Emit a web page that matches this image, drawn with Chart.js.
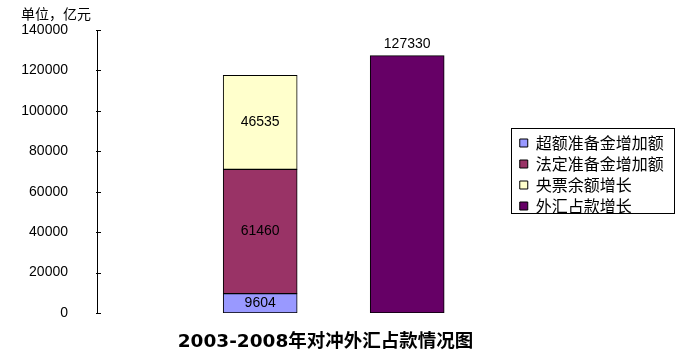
<!DOCTYPE html>
<html><head><meta charset="utf-8">
<script src="https://cdn.jsdelivr.net/npm/chart.js@4.4.1/dist/chart.umd.min.js"></script>
<style>html,body{margin:0;padding:0;background:#fff;} #wrap{position:relative;width:679px;height:357px;}</style>
</head><body><div id="wrap"><canvas id="c"></canvas></div>
<script>
// ---- data ----
const positions = [1, 2];            // category slots of the two bars
const seriesNames = ['超额准备金增加额', '法定准备金增加额', '央票余额增长', '外汇占款增长'];
const excessReserve   = [9604, null];
const requiredReserve = [61460, null];
const billBalance     = [46535, null];
const fxIncrease      = [null, 127330];
const yMin = 0, yMax = 140000, yStep = 20000;
const unitLabel = '单位，亿元';
const chartTitle = '2003-2008年对冲外汇占款情况图';

const seriesValues = [excessReserve, requiredReserve, billBalance, fxIncrease];
const colors = ['#9999FF', '#993366', '#FFFFCC', '#660066'];
const labelOutside = [false, false, false, true];

const toPoints = vals => positions.map((p, i) => ({x: p, y: vals[i]})).filter(d => d.y !== null);

Chart.defaults.font.family = '"Liberation Sans", Arial, sans-serif';
Chart.defaults.color = '#000';

const legendPlace = {
  id: 'legendPlace',
  afterLayout(chart) {
    const lg = chart.legend;
    const dx = chart.width - 12 - lg.right;
    lg.left += dx; lg.right += dx;
    lg.top += 3; lg.bottom += 3;
  }
};

const legendBorder = {
  id: 'legendBorder',
  afterDraw(chart) {
    const hb = chart.legend.legendHitBoxes;
    if (!hb || !hb.length) return;
    let l = Infinity, t = Infinity, r = -Infinity, b = -Infinity;
    hb.forEach(h => { l = Math.min(l, h.left); t = Math.min(t, h.top); r = Math.max(r, h.left + h.width); b = Math.max(b, h.top + h.height); });
    const ctx = chart.ctx;
    ctx.save();
    ctx.strokeStyle = '#000'; ctx.lineWidth = 1;
    ctx.strokeRect(Math.round(l - 9) + 0.5, Math.round(t - 7) + 0.5, Math.round(r - l + 19), Math.round(b - t + 6));
    ctx.restore();
  }
};

const inwardTicks = {
  id: 'inwardTicks',
  afterDraw(chart) {
    const s = chart.scales.y, ctx = chart.ctx;
    const x = Math.round(s.right);
    ctx.save();
    ctx.strokeStyle = '#000'; ctx.lineWidth = 1;
    s.ticks.forEach((tk, i) => {
      const y = Math.round(s.getPixelForTick(i)) + 0.5;
      ctx.beginPath(); ctx.moveTo(x - 1, y); ctx.lineTo(x + 4, y); ctx.stroke();
    });
    ctx.restore();
  }
};

const valueLabels = {
  id: 'valueLabels',
  afterDatasetsDraw(chart) {
    const ctx = chart.ctx;
    ctx.save();
    ctx.font = '14px "Liberation Sans", Arial, sans-serif';
    ctx.fillStyle = '#000';
    ctx.textAlign = 'center';
    ctx.textBaseline = 'middle';
    chart.data.datasets.forEach((ds, di) => {
      const meta = chart.getDatasetMeta(di);
      meta.data.forEach((el, i) => {
        const v = ds.data[i].y;
        if (v === null || v === undefined) return;
        const p = el.getProps(['x', 'y', 'base'], true);
        const y = labelOutside[di] ? p.y - 11 : (p.y + p.base) / 2;
        ctx.fillText(String(v), p.x, y);
      });
    });
    ctx.restore();
  }
};

new Chart(document.getElementById('c'), {
  type: 'bar',
  data: {
    datasets: seriesNames.map((name, i) => ({
      label: name,
      data: toPoints(seriesValues[i]),
      backgroundColor: colors[i],
      borderColor: '#000',
      borderWidth: 1,
      borderSkipped: false,
      barThickness: 74
    }))
  },
  options: {
    responsive: true,
    maintainAspectRatio: false,
    animation: false,
    devicePixelRatio: 1,
    layout: {padding: {left: 21, right: 49, top: 0, bottom: 0}},
    scales: {
      x: {type: 'linear', display: false, stacked: true, offset: false, min: -0.11, max: 2.48},
      y: {
        stacked: true, min: yMin, max: yMax,
        ticks: {stepSize: yStep, padding: 3, font: {size: 14}, color: '#000', callback: v => String(v)},
        grid: {display: false, drawTicks: true, tickLength: 26},
        border: {display: true, color: '#000', width: 1},
        afterFit(s) { s.width = 76; }
      }
    },
    plugins: {
      legend: {
        position: 'right', fullSize: false,
        labels: {boxWidth: 8, boxHeight: 8, padding: 5, color: '#000',
          font: {family: '"Noto Sans CJK SC", sans-serif', size: 16, lineHeight: 1}}
      },
      subtitle: {
        display: true, text: unitLabel, position: 'top', align: 'start', color: '#000',
        font: {family: '"Noto Sans CJK SC", sans-serif', size: 14, weight: 'normal', lineHeight: 1.2},
        padding: {top: 5, bottom: 8.2}
      },
      title: {
        display: true, text: chartTitle, position: 'bottom', align: 'center', color: '#000',
        font: {family: '"DejaVu Sans", "Noto Sans CJK SC", sans-serif', size: 18.5, weight: 'bold', lineHeight: 1.2},
        padding: {top: 18.5, bottom: 3.3}
      },
      tooltip: {enabled: false}
    }
  },
  plugins: [legendPlace, legendBorder, inwardTicks, valueLabels]
});
</script>
</body></html>
